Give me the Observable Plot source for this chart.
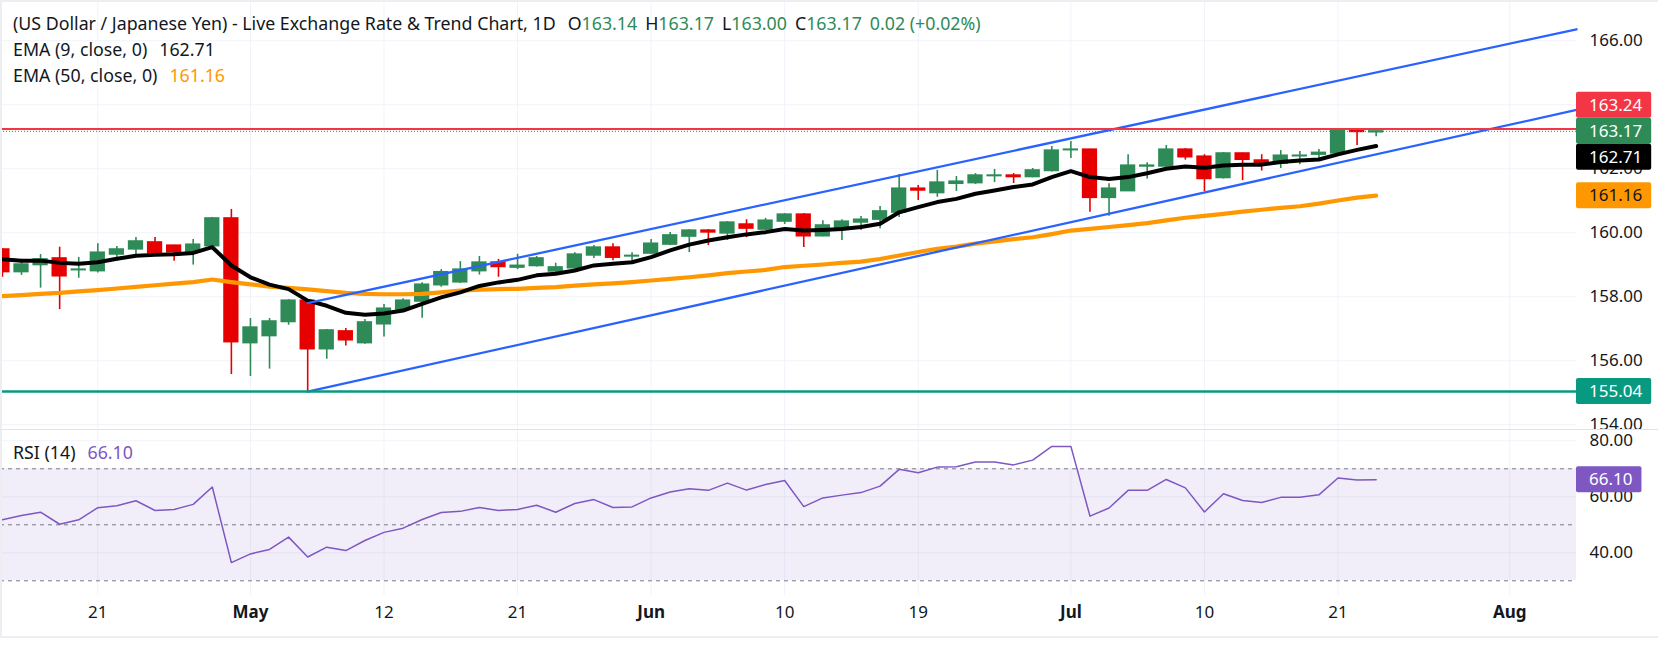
<!DOCTYPE html>
<html><head><meta charset="utf-8">
<script src="https://cdn.jsdelivr.net/npm/d3@7"></script>
<script src="https://cdn.jsdelivr.net/npm/@observablehq/plot@0.6"></script>
<style>
body{margin:0;background:#fff;}
#wrap{position:relative;width:1658px;height:647px;overflow:hidden;background:#fff;font-family:"Noto Sans",sans-serif;color:#131722;}
#wrap svg{position:absolute;left:0;overflow:hidden;background:transparent;}
.hdr{position:absolute;left:13px;white-space:nowrap;font-size:17.8px;line-height:22px;}
.g{color:#2e8b57}
.sp{margin-left:12px}
.sq{margin-left:8px}
.edge{position:absolute;background:#eceef2;}
</style></head><body><div id="wrap"></div>
<script>
// ---------- data ----------
const openP  = [159.48,158.77,158.99,159.20,158.83,158.80,159.32,159.48,159.70,159.60,159.38,159.58,160.45,156.55,156.77,157.21,157.88,156.36,156.92,156.55,157.14,157.60,157.85,158.36,158.45,158.80,159.07,158.91,158.96,158.79,158.89,159.29,159.54,159.26,159.35,159.63,159.88,160.07,159.98,160.26,160.10,160.35,160.57,159.89,160.13,160.32,160.41,160.63,161.38,161.24,161.53,161.55,161.77,161.79,161.74,161.93,162.58,162.60,161.09,161.30,162.07,162.07,162.60,162.38,161.71,162.48,162.26,162.16,162.39,162.44,162.48,163.23,163.14];
const highP  = [159.50,159.17,159.32,159.55,159.23,159.66,159.57,159.85,159.85,159.61,159.79,160.48,160.73,157.32,157.32,157.91,157.91,156.98,157.01,157.29,157.76,157.94,158.44,158.85,159.10,159.26,159.17,159.33,159.26,159.05,159.38,159.60,159.66,159.38,159.79,160.01,160.10,160.10,160.35,160.41,160.45,160.60,160.60,160.38,160.41,160.51,160.82,161.82,161.48,161.95,161.76,161.85,161.98,161.85,162.01,162.70,162.85,162.61,161.53,162.44,162.19,162.73,162.63,162.44,162.51,162.49,162.44,162.57,162.54,162.60,163.26,163.26,163.17];
const lowP   = [158.61,158.67,158.27,157.60,158.58,158.74,159.11,159.32,159.32,159.11,158.99,159.55,155.57,155.51,155.74,157.11,155.04,156.05,156.46,156.52,156.74,157.57,157.33,158.30,158.42,158.68,158.61,158.85,158.93,158.76,158.86,159.20,159.13,159.10,159.32,159.60,159.38,159.60,159.76,159.85,160.07,160.26,159.54,159.88,159.76,160.07,160.13,160.48,161.01,161.11,161.29,161.51,161.57,161.54,161.72,161.90,162.32,160.64,160.52,161.30,161.68,162.05,162.27,161.29,161.68,161.63,161.93,162.01,162.13,162.23,162.44,162.73,163.00];
const closeP = [158.77,159.01,159.17,158.64,158.85,159.38,159.48,159.73,159.36,159.39,159.63,160.45,156.58,157.04,157.23,157.88,156.36,156.95,156.64,157.20,157.63,157.88,158.38,158.77,158.85,159.07,158.93,158.97,159.20,158.92,159.32,159.54,159.22,159.28,159.66,159.92,160.07,160.01,160.32,160.13,160.38,160.57,159.89,160.23,160.35,160.41,160.67,161.38,161.32,161.57,161.60,161.79,161.79,161.74,161.95,162.57,162.60,161.09,161.38,162.10,162.10,162.60,162.36,161.68,162.48,162.28,162.18,162.41,162.41,162.50,163.23,163.15,163.17];
const ema9   = [159.17,159.13,159.13,159.06,159.03,159.08,159.19,159.28,159.31,159.33,159.37,159.55,158.98,158.61,158.38,158.24,157.88,157.72,157.50,157.44,157.48,157.57,157.78,157.98,158.14,158.34,158.45,158.53,158.67,158.72,158.82,158.98,159.03,159.08,159.24,159.45,159.63,159.76,159.86,159.95,160.02,160.12,160.07,160.09,160.12,160.18,160.28,160.64,160.80,160.96,161.06,161.22,161.32,161.43,161.51,161.74,161.93,161.74,161.68,161.74,161.86,162.00,162.07,162.03,162.10,162.13,162.13,162.21,162.26,162.29,162.45,162.59,162.71];
const ema50  = [158.02,158.05,158.09,158.12,158.17,158.21,158.26,158.31,158.36,158.41,158.46,158.54,158.46,158.39,158.32,158.28,158.23,158.18,158.12,158.09,158.08,158.08,158.09,158.14,158.19,158.22,158.24,158.25,158.28,158.30,158.35,158.39,158.42,158.46,158.51,158.56,158.61,158.67,158.74,158.79,158.84,158.93,158.97,159.01,159.06,159.10,159.18,159.29,159.40,159.50,159.57,159.66,159.73,159.80,159.86,159.96,160.07,160.12,160.18,160.24,160.30,160.39,160.47,160.53,160.59,160.66,160.72,160.78,160.83,160.91,161.01,161.10,161.16];
const rsi14  = [51.8,53.3,54.5,50.2,51.8,56.1,56.8,58.6,55.1,55.5,57.3,63.5,36.5,39.6,41.2,45.6,38.5,42.0,40.8,44.4,47.3,48.8,51.9,54.4,54.8,56.2,55.1,55.5,57.0,54.5,57.6,59.0,56.2,56.4,59.6,61.7,62.9,62.3,64.9,62.4,64.4,65.8,56.5,59.6,60.6,61.5,63.8,69.8,68.6,70.6,70.7,72.4,72.4,71.4,73.1,78.0,78.0,53.1,56.0,62.3,62.3,66.2,63.2,54.6,61.1,58.7,58.0,59.8,59.8,60.7,66.7,66.0,66.1];
const timeTickIndex = [5,13,20,27,34,41,48,56,63,70,79];
const timeTickLabel = ["21","May","12","21","Jun","10","19","Jul","10","21","Aug"];
const monthNames = ["May","Jun","Jul","Aug"];
const priceGrid = [154,156,158,160,162,164,166];
const priceTickLabels = [154,156,158,160,162,166];   // 164.00 is hidden behind the 163.24 tag
const rsiTicks = [40,60,80];
const rsiLevels = [70,50,30];
const channelName = ["upper","upper","lower","lower"];
const channelBar  = [16,82.5,16,82.5];
const channelPrice= [157.80,166.36,155.04,163.84];
const resistance = 163.24, support = 155.04, lastClose = 163.17;
const ema9Last = 162.71, ema50Last = 161.16, rsiLast = 66.10;

// ---------- tables ----------
const GREEN="#2e8b57", RED="#e60000", GRID="#f0f3fa";
const rows = openP.map((o,i)=>({i,o,h:highP[i],l:lowP[i],c:closeP[i],up:closeP[i]>=o,
  ema9:ema9[i],ema50:ema50[i],rsi:rsi14[i]}));
const channel = channelName.map((n,k)=>({name:n,i:channelBar[k],p:channelPrice[k]}));
const ticks = timeTickIndex.map((i,k)=>({i,label:timeTickLabel[k],month:monthNames.includes(timeTickLabel[k])}));

const W=1658, AXW=82, FONT='"Noto Sans",sans-serif';
const xDomain=[-0.1,82.5];

const main = Plot.plot({
  width:W, height:429, marginLeft:0, marginRight:AXW, marginTop:0, marginBottom:0,
  x:{domain:xDomain, axis:null},
  y:{domain:[153.853,167.259], axis:null},
  style:{fontFamily:FONT, background:"transparent"},
  marks:[
    Plot.gridX(timeTickIndex,{stroke:GRID,strokeOpacity:1}),
    Plot.gridY(priceGrid,{stroke:GRID,strokeOpacity:1}),
    Plot.axisY(priceTickLabels,{anchor:"right",tickSize:0,tickPadding:13,label:null,
      tickFormat:d=>d.toFixed(2),fontSize:17,fill:"#131722"}),
    Plot.ruleX(rows,{x:"i",y1:"l",y2:"h",stroke:d=>d.up?GREEN:RED,strokeWidth:1.6}),
    Plot.rect(rows,{x1:d=>d.i-0.4,x2:d=>d.i+0.4,y1:d=>Math.min(d.o,d.c),y2:d=>Math.max(d.o,d.c),
      fill:d=>d.up?GREEN:RED,insetTop:-0.7,insetBottom:-0.7}),
    Plot.line(rows,{x:"i",y:"ema50",stroke:"#ff9800",strokeWidth:4.2}),
    Plot.line(rows,{x:"i",y:"ema9",stroke:"#000",strokeWidth:4}),
    Plot.line(channel,{x:"i",y:"p",z:"name",stroke:"#2962ff",strokeWidth:2.3}),
    Plot.ruleY([resistance],{stroke:"#f23645",strokeWidth:2}),
    Plot.ruleY([lastClose],{stroke:GREEN,strokeWidth:1,strokeDasharray:"1,2"}),
    Plot.ruleY([support],{stroke:"#089981",strokeWidth:2.5})
  ]
});
main.style.top="0px";

const rsiPlot = Plot.plot({
  width:W, height:217, marginLeft:0, marginRight:AXW, marginTop:0, marginBottom:52,
  x:{domain:xDomain, axis:null},
  y:{domain:[24.75,83.68], axis:null},
  style:{fontFamily:FONT, background:"transparent"},
  marks:[
    Plot.gridX(timeTickIndex,{stroke:GRID,strokeOpacity:1}),
    Plot.gridY(rsiTicks,{stroke:GRID,strokeOpacity:1}),
    Plot.rect([0],{y1:30,y2:70,fill:"#7e57c2",fillOpacity:0.1}),
    Plot.ruleY(rsiLevels,{stroke:"#787b86",strokeWidth:1,strokeDasharray:"4,4"}),
    Plot.line(rows,{x:"i",y:"rsi",stroke:"#7e57c2",strokeWidth:1.5}),
    Plot.axisY(rsiTicks,{anchor:"right",tickSize:0,tickPadding:13,label:null,
      tickFormat:d=>d.toFixed(2),fontSize:17,fill:"#131722"}),
    Plot.text(ticks.filter(d=>!d.month),{x:"i",text:"label",frameAnchor:"bottom",dy:22.7,fontSize:17,fill:"#131722"}),
    Plot.text(ticks.filter(d=>d.month),{x:"i",text:"label",frameAnchor:"bottom",dy:22.7,fontSize:17,fontWeight:"bold",fill:"#131722"})
  ]
});
rsiPlot.style.top="430px";

const wrap=document.getElementById("wrap");
wrap.appendChild(main);
wrap.appendChild(rsiPlot);

// ---------- price-scale value tags (positions from the plot's own y scale) ----------
function yScaleOf(chart){const s=chart.scale("y");return s.apply?v=>s.apply(v):d3.scaleLinear(s.domain,s.range);}
function addTags(chart, items, fixedIdx){
  const ys=yScaleOf(chart), H=26;
  items.forEach(d=>d.cy=ys(d.v));
  const sorted=items.slice().sort((a,b)=>a.cy-b.cy);
  const f=sorted.indexOf(items[fixedIdx]);
  for(let k=f-1;k>=0;k--) sorted[k].cy=Math.min(sorted[k].cy,sorted[k+1].cy-H);
  for(let k=f+1;k<sorted.length;k++) sorted[k].cy=Math.max(sorted[k].cy,sorted[k-1].cy+H);
  const g=d3.select(chart).append("g").attr("font-family",FONT).attr("font-size",17).attr("text-anchor","start");
  const gr=g.append("g"), gt=g.append("g");
  items.forEach(d=>{
    const txt=gt.append("text").attr("x",W-AXW+13).attr("y",d.cy).attr("dy","0.35em").attr("fill",d.tc).text(d.v.toFixed(2));
    const w=txt.node().getComputedTextLength();
    gr.append("rect").attr("x",W-AXW).attr("y",d.cy-H/2).attr("width",w+22).attr("height",H).attr("rx",2).attr("fill",d.bg);
  });
}
addTags(main,[
  {v:resistance,bg:"#f23645",tc:"#fff"},
  {v:lastClose,bg:GREEN,tc:"#fff"},
  {v:ema9Last,bg:"#000",tc:"#fff"},
  {v:ema50Last,bg:"#ff9800",tc:"#131722"},
  {v:support,bg:"#089981",tc:"#fff"}
],1);
addTags(rsiPlot,[{v:rsiLast,bg:"#7e57c2",tc:"#fff"}],0);

// ---------- legend / header texts ----------
function div(html,top){const d=document.createElement("div");d.className="hdr";d.style.top=top+"px";d.innerHTML=html;wrap.appendChild(d);return d;}
div('(US Dollar / Japanese Yen) - Live Exchange Rate &amp; Trend Chart, 1D'+
  '<span class="sp">O<span class="g">163.14</span></span><span class="sq">H<span class="g">163.17</span></span>'+
  '<span class="sq">L<span class="g">163.00</span></span><span class="sq">C<span class="g">163.17</span></span>'+
  '<span class="sq g">0.02 (+0.02%)</span>',12);
div('EMA (9, close, 0)<span class="sp">'+ema9Last.toFixed(2)+'</span>',38);
div('EMA (50, close, 0)<span class="sp" style="color:#ff9800">'+ema50Last.toFixed(2)+'</span>',64);
div('RSI (14)<span class="sp" style="color:#7e57c2">'+rsiLast.toFixed(2)+'</span>',441);

// frame edges of the widget
[[0,0,W,2,"#eceef2"],[0,0,2,637,"#eceef2"],[0,636,W,2,"#eceef2"],[0,429,W,1,"#e0e3eb"]].forEach(([l,t,w,h,c])=>{
  const e=document.createElement("div");e.className="edge";
  Object.assign(e.style,{left:l+"px",top:t+"px",width:w+"px",height:h+"px",background:c});
  wrap.appendChild(e);
});
</script></body></html>
